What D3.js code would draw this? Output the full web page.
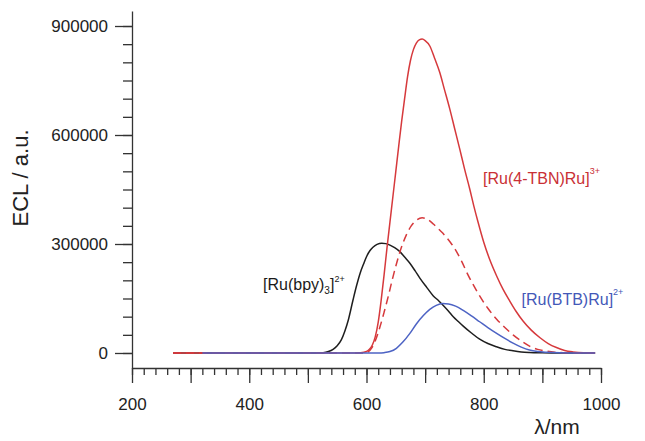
<!DOCTYPE html>
<html>
<head>
<meta charset="utf-8">
<script src="https://cdn.jsdelivr.net/npm/d3@7"></script>
<style>
  body { margin: 0; background: #fff; }
  svg { font-family: "Liberation Sans", Arial, sans-serif; }
  .axis path, .axis line { stroke: #333; stroke-width: 1.3; }
  .axis text { fill: #222; font-size: 17px; font-family: "Liberation Sans", Arial, sans-serif; }
</style>
</head>
<body>
<script>
// ECL spectra (wavelength in nm, intensity in a.u.)
var wlBpy  = [270, 500, 515, 526, 535, 543, 550, 557, 563, 569, 577, 583, 589, 595, 600, 606, 611, 618, 626, 633, 640, 648, 657, 665, 674, 683, 691, 703, 714, 723, 731, 740, 748, 757, 765, 779, 793, 807, 822, 836, 850, 864, 878, 900, 930, 990];
var eclBpy = [0, 0, 300, 1000, 4000, 10000, 20000, 36000, 60000, 91000, 146000, 185000, 219000, 245000, 265000, 282000, 291000, 299000, 302000, 301000, 297000, 290000, 279000, 264000, 247000, 226000, 206000, 180000, 157000, 144000, 131000, 115000, 100000, 86000, 74000, 55000, 38000, 26000, 17000, 10000, 6000, 3000, 1500, 500, 0, 0];

var wlTbn  = [270, 575, 590, 600, 605, 610, 615, 620, 625, 630, 635, 640, 645, 650, 655, 660, 665, 670, 675, 680, 685, 690, 695, 700, 708, 716, 725, 733, 742, 750, 759, 767, 776, 783, 790, 800, 810, 822, 833, 844, 855, 867, 881, 896, 910, 924, 938, 952, 970, 990];
var eclTbn = [0, 0, 1000, 4000, 10000, 22000, 45000, 85000, 145000, 215000, 290000, 360000, 430000, 500000, 570000, 638000, 700000, 760000, 805000, 835000, 853000, 862000, 864000, 860000, 845000, 812000, 772000, 725000, 672000, 620000, 562000, 508000, 452000, 405000, 362000, 305000, 258000, 212000, 175000, 144000, 115000, 88000, 63000, 42000, 26000, 15000, 7000, 3000, 500, 0];

var wlTbnDash  = [270, 595, 602, 609, 616, 623, 630, 637, 644, 651, 659, 668, 676, 685, 695, 705, 714, 722, 730, 738, 746, 755, 763, 771, 782, 793, 807, 822, 836, 850, 864, 878, 892, 907, 921, 935, 960, 990];
var eclTbnDash = [0, 0, 2000, 14000, 38000, 72000, 112000, 155000, 202000, 245000, 288000, 325000, 349000, 365000, 372000, 367000, 355000, 343000, 330000, 315000, 298000, 275000, 250000, 222000, 188000, 157000, 123000, 93000, 70000, 50000, 33000, 19000, 10000, 5000, 2000, 1000, 0, 0];

var wlBtb  = [320, 620, 630, 640, 651, 662, 674, 685, 697, 708, 719, 730, 740, 752, 765, 779, 793, 807, 822, 836, 850, 864, 878, 892, 907, 930, 960, 990];
var eclBtb = [0, 0, 1000, 4000, 13000, 30000, 54000, 80000, 103000, 120000, 131000, 136000, 135000, 129000, 117000, 102000, 86000, 70000, 54000, 40000, 27000, 16000, 8000, 4000, 2000, 500, 0, 0];

var xMajorTicks = [200, 300, 400, 500, 600, 700, 800, 900, 1000];
var yMajorTicks = [0, 300000, 600000, 900000];

var width = 645, height = 441;

var svg = d3.select("body").append("svg")
	.attr("width", width)
	.attr("height", height);

var x = d3.scaleLinear().domain([200, 1000]).range([132, 601]);
var y = d3.scaleLinear().domain([-41300, 941300]).range([368, 11]);

// x axis: long ticks every 100, short ones every 20
svg.append("g")
	.attr("class", "axis")
	.attr("transform", "translate(0,368)")
	.call(d3.axisBottom(x).tickValues(d3.range(200, 1001, 20)).tickSize(7).tickFormat(""))
	.call(g => g.select(".domain").remove());

svg.append("g")
	.attr("class", "axis")
	.attr("transform", "translate(0,368)")
	.call(d3.axisBottom(x).tickValues(xMajorTicks).tickSize(15).tickSizeOuter(0).tickPadding(15)
		.tickFormat(d => d % 200 === 0 ? d : ""));

// y axis
svg.append("g")
	.attr("class", "axis")
	.attr("transform", "translate(132,0)")
	.call(d3.axisLeft(y).tickValues(d3.range(0, 900001, 50000)).tickSize(9).tickFormat(""))
	.call(g => g.select(".domain").remove());

svg.append("g")
	.attr("class", "axis")
	.attr("transform", "translate(132,0)")
	.call(d3.axisLeft(y).tickValues(yMajorTicks).tickSize(17).tickSizeOuter(0).tickPadding(7)
		.tickFormat(d3.format("d")));

// axis titles
svg.append("text")
	.attr("transform", "translate(28,178) rotate(-90)")
	.attr("text-anchor", "middle")
	.attr("font-size", 22)
	.attr("fill", "#222")
	.text("ECL / a.u.");

svg.append("text")
	.attr("x", 557)
	.attr("y", 434)
	.attr("text-anchor", "middle")
	.attr("font-size", 21)
	.attr("fill", "#222")
	.text("λ/nm");

// curves
var line = d3.line()
	.x(d => x(d[0]))
	.y(d => y(d[1]))
	.curve(d3.curveMonotoneX);

var series = [
	{ data: d3.zip(wlBpy, eclBpy), color: "#1e1e1e", dash: null },
	{ data: d3.zip(wlTbnDash, eclTbnDash), color: "#d6393c", dash: "8,5" },
	{ data: d3.zip(wlTbn, eclTbn), color: "#d6393c", dash: null },
	{ data: d3.zip(wlBtb, eclBtb), color: "#4d63c4", dash: null }
];

series.forEach(s => {
	svg.append("path")
		.datum(s.data)
		.attr("fill", "none")
		.attr("stroke", s.color)
		.attr("stroke-width", 1.5)
		.attr("stroke-dasharray", s.dash)
		.attr("d", line);
});

// labels with sub/superscripts
function label(xPos, yPos, color, parts) {
	var t = svg.append("text")
		.attr("x", xPos)
		.attr("y", yPos)
		.attr("fill", color)
		.attr("font-size", 16);
	parts.forEach(p => {
		t.append("tspan")
			.attr("font-size", p.size || 16)
			.attr("dy", p.dy || 0)
			.text(p.text);
	});
}

label(263, 290, "#1a1a1a", [
	{ text: "[Ru(bpy)" },
	{ text: "3", size: 10, dy: 4 },
	{ text: "]", dy: -4 },
	{ text: "2+", size: 9, dy: -8 }
]);

label(483, 183.5, "#c93035", [
	{ text: "[Ru(4-TBN)Ru]" },
	{ text: "3+", size: 9, dy: -10 }
]);

label(521.5, 305, "#4358b8", [
	{ text: "[Ru(BTB)Ru]" },
	{ text: "2+", size: 9, dy: -10 }
]);
</script>
</body>
</html>
